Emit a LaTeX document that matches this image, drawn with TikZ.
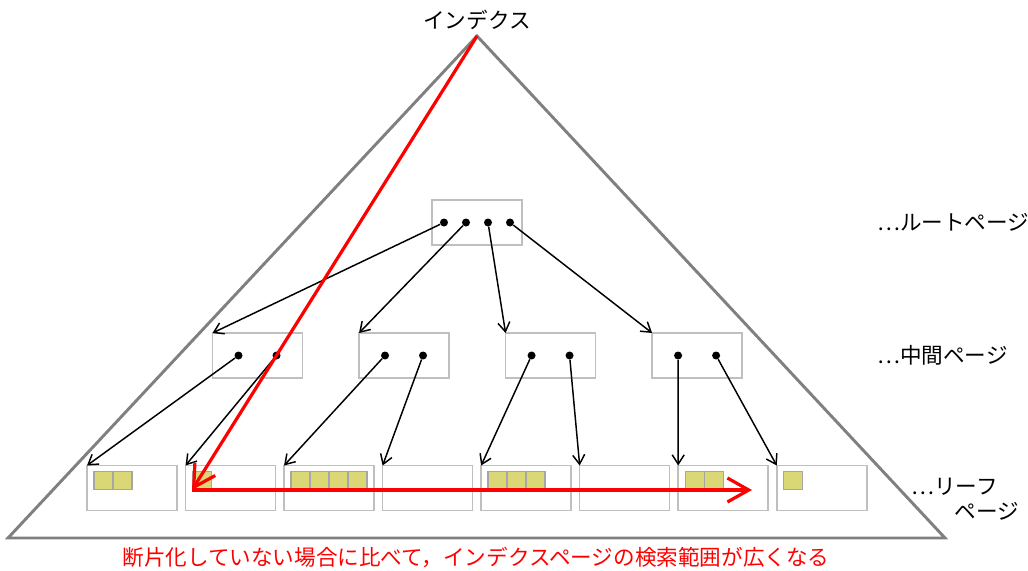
\documentclass[tikz,border=0pt]{standalone}
\usepackage{fontspec}
\setmainfont{Noto Sans CJK JP}
\usetikzlibrary{arrows.meta,positioning}
\definecolor{cellfill}{RGB}{217,215,118}

\begin{document}
\begin{tikzpicture}[x=0.75pt, y=-0.75pt,
  tri/.style={draw=black!50, line width=2.2pt},
  page/.style={draw=black!25, line width=1.2pt, minimum width=67.5pt,
    minimum height=33.75pt, outer sep=0pt, inner sep=0pt},
  cell/.style={draw=black!35, fill=cellfill, line width=1pt},
  dot/.style={circle, fill=black, inner sep=0pt, minimum size=6pt},
  e/.style={-{Straight Barb[length=7pt, width=9pt]}, line width=1.1pt},
  scan/.style={-{Straight Barb[length=16pt, width=18pt]}, draw=red,
    line width=2.4pt},
  lbl/.style={font=\fontsize{16.2pt}{19pt}\selectfont, inner sep=0pt},
]
\useasboundingbox (0,0) rectangle (1028,571);
% index triangle
\coordinate (apex) at (477,36);
\draw[tri] (apex) -- (8,538) -- (945,538) -- cycle;
% root page
\node[page] (root) at (477,222.5) {};
\foreach \i/\dx in {1/-33,2/-11,3/11,4/33}
  \node[dot] (r\i) at ([shift={(\dx,0)}]root.center) {};
% intermediate pages
\node[page] (m1) at (257.5,355.5) {};
\node[page, right=42.4pt of m1] (m2) {};
\node[page, right=42.4pt of m2] (m3) {};
\node[page, right=42.4pt of m3] (m4) {};
\foreach \i in {1,...,4} {
  \node[dot] (ma\i) at ([shift={(-19,0)}]m\i.center) {};
  \node[dot] (mb\i) at ([shift={(19,0)}]m\i.center) {};
}
% leaf pages
\node[page] (l1) at (132,488) {};
\foreach \i [count=\j from 2] in {1,...,7}
  \node[page, right=6.4pt of l\i] (l\j) {};
% records in the leaves
\foreach \n/\k in {1/2,2/1,3/4,5/3,7/2,8/1}
  \foreach \j in {1,...,\k}
    \draw[cell] ([shift={(19*\j-12,6)}]l\n.north west) rectangle ++(19,18);
% pointers
\foreach \i in {1,...,4}
  \draw[e] (r\i) -- (m\i.north west);
\foreach \s/\t in {ma1/l1,mb1/l2,ma2/l3,mb2/l4,ma3/l5,mb3/l6,ma4/l7,mb4/l8}
  \draw[e] (\s) -- (\t.north west);
% search path
\coordinate (hit) at (192,490);
\coordinate (stop) at (752,490);
\draw[scan] (apex) -- (hit);
\draw[scan] (hit) -- (stop);
% labels
\node[lbl] (title) at (477,20) {インデクス};
\node[lbl, anchor=west] (rootlbl) at (877,222) {⋯ルートページ};
\node[lbl, anchor=west] (midlbl) at (877,355) {⋯中間ページ};
\node[lbl, anchor=west, align=left] (leaflbl) at (911,499.5)
  {⋯リーフ\\\hspace*{2em}ページ};
\node[lbl, text=red] (note) at (476,557)
  {断片化していない場合に比べて，インデクスページの検索範囲が広くなる};
\end{tikzpicture}
\end{document}
